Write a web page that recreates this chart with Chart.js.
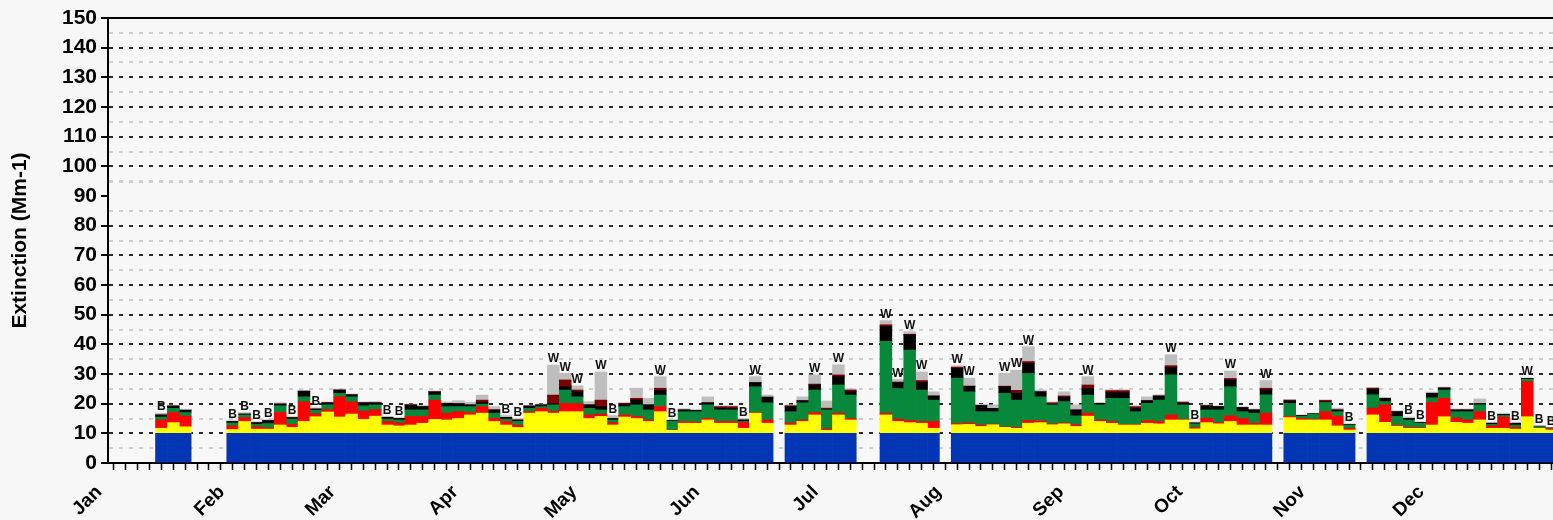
<!DOCTYPE html>
<html>
<head>
<meta charset="utf-8">
<title>Daily light extinction</title>
<script src="https://cdn.jsdelivr.net/npm/chart.js@4.4.1/dist/chart.umd.min.js"></script>
<style>
    html, body { margin: 0; padding: 0; background: #f7f7f7; }
    canvas { display: block; }
</style>
</head>
<body>
<canvas id="extinctionChart" width="1553" height="520"></canvas>
<script>
// sample start day (day of year, 0 = Jan 1), one sample every 3 days
var sampleDay = [
    12, 15, 18,
    30, 33, 36, 39, 42, 45, 48, 51, 54, 57, 60, 63, 66, 69, 72, 75, 78, 81, 84, 87, 90, 93,
    96, 99, 102, 105, 108, 111, 114, 117, 120, 123, 126, 129, 132, 135, 138, 141, 144, 147,
    150, 153, 156, 159, 162, 165,
    171, 174, 177, 180, 183, 186,
    195, 198, 201, 204, 207,
    213, 216, 219, 222, 225, 228, 231, 234, 237, 240, 243, 246, 249, 252, 255, 258, 261, 264,
    267, 270, 273, 276, 279, 282, 285, 288, 291,
    297, 300, 303, 306, 309, 312,
    318, 321, 324, 327, 330, 333, 336, 339, 342, 345, 348, 351, 354, 357, 360, 363
];

// Rayleigh (clear air) extinction, Mm-1
var rayleigh = 10;

var sulfate = [
    1.7, 3.6, 2.2,
    1.3, 4.0, 1.4, 1.4, 2.8, 2.0, 4.0, 5.6, 7.2, 5.5,
    6.5, 4.7, 5.8, 2.8, 2.5, 2.8, 3.4, 4.7, 4.5, 5.0,
    6.2, 6.8, 4.0, 2.8, 2.0, 6.8, 7.3, 6.8, 7.3, 7.3,
    5.0, 5.7, 2.8, 5.5, 5.0, 4.0, 7.3, 1.0, 3.4, 3.4,
    4.5, 3.4, 3.4, 1.7, 6.8, 3.4,
    2.8, 4.0, 6.2, 1.0, 6.2, 4.5,
    6.2, 4.0, 3.6, 3.4, 1.7,
    2.9, 3.0, 2.3, 2.9, 2.0, 1.7, 3.4, 3.6, 2.9,
    3.2, 2.3, 5.8, 4.0, 3.4, 2.8, 2.8, 3.4, 3.2, 4.5,
    4.5, 1.5, 3.6, 3.2, 4.0, 2.8, 2.8, 2.8,
    5.3, 4.5, 4.5, 4.5, 2.5, 1.1,
    6.2, 3.7, 2.4, 1.7,
    1.7, 2.8, 5.6, 3.7, 3.4, 4.5, 1.7, 1.7, 1.4, 5.6, 1.7, 1.1
];

var nitrate = [
    2.8, 3.4, 3.6,
    1.2, 1.3, 0.8, 0.4, 4.2, 1.0, 6.6, 1.0, 0.8, 6.8,
    4.1, 2.8, 2.2, 1.2, 1.0, 2.9, 2.3, 6.5, 2.3, 2.3,
    0.8, 2.2, 1.0, 1.2, 0.8, 0.5, 1.1, 0.7, 2.8, 2.7,
    1.2, 0.8, 0.8, 0.7, 0.7, 0.5, 1.7, 0.1, 0.6, 0.4,
    0.5, 0.6, 0.6, 1.9, 0.2, 1.1,
    0.7, 0.5, 0.8, 0.5, 0.6, 0.5,
    0.6, 0.8, 0.7, 0.6, 2.3,
    0.4, 0.5, 0.5, 0.2, 0.2, 0.3, 0.9, 0.6, 0.3,
    0.3, 0.6, 1.0, 0.5, 0.6, 0.2, 0.2, 0.9, 0.8, 1.7,
    0.2, 0.5, 1.5, 0.4, 1.9, 2.2, 0.6, 4.0,
    0.4, 0.5, 0.2, 2.8, 3.3, 0.6,
    2.3, 5.9, 0.3, 0.3,
    0.2, 7.6, 6.2, 1.5, 1.1, 2.8, 0.8, 3.8, 0.6, 11.8, 0.1, 0.4
];

var organic = [
    1.0, 1.4, 1.2,
    1.0, 0.9, 0.8, 1.5, 2.3, 1.8, 1.7, 1.2, 1.6, 1.2,
    1.7, 1.8, 1.6, 0.8, 1.0, 2.2, 2.2, 1.7, 2.2, 1.7,
    2.0, 0.8, 1.8, 0.8, 1.2, 1.1, 0.6, 2.1, 4.5, 2.3,
    2.2, 1.4, 0.9, 2.8, 3.9, 3.4, 3.9, 3.0, 3.3, 3.5,
    4.6, 3.9, 3.9, 0.4, 8.7, 5.8,
    3.8, 5.8, 7.6, 6.4, 9.5, 7.9,
    24.2, 10.3, 23.8, 10.6, 7.2,
    15.3, 10.5, 4.5, 4.2, 11.3, 9.2, 15.9, 8.1, 6.4,
    7.2, 3.0, 6.1, 5.1, 7.8, 8.8, 4.3, 5.8, 7.2, 13.5,
    4.9, 1.2, 2.8, 4.3, 9.8, 2.3, 3.4, 6.2,
    4.4, 0.7, 1.8, 3.1, 1.5, 1.1,
    4.5, 1.1, 3.0, 2.5,
    1.5, 1.6, 2.8, 2.1, 2.8, 2.3, 0.5, 0.5, 0.8, 0.8, 0.5, 0.2
];

var elemental = [
    0.7, 0.8, 0.8,
    0.5, 0.3, 0.6, 1.0, 0.6, 0.5, 1.9, 0.4, 0.7, 1.1,
    0.7, 1.0, 0.7, 0.6, 0.5, 1.7, 1.1, 1.1, 1.1, 1.0,
    0.6, 0.7, 1.1, 0.6, 0.5, 0.8, 0.6, 0.3, 1.1, 1.7,
    1.2, 1.1, 0.5, 0.8, 1.6, 1.7, 1.6, 0.2, 0.6, 0.4,
    0.7, 0.6, 0.4, 0.5, 1.4, 1.9,
    1.7, 0.7, 1.7, 0.2, 2.8, 1.1,
    5.0, 2.0, 5.1, 2.5, 1.4,
    3.3, 1.9, 2.1, 1.1, 2.2, 2.3, 3.4, 1.7, 0.2,
    1.5, 2.0, 2.3, 0.5, 1.9, 1.9, 1.1, 0.9, 1.4, 2.5,
    0.5, 0.3, 1.4, 1.1, 2.3, 1.4, 1.1, 1.6,
    0.8, 0.3, 0.1, 0.2, 0.6, 0.2,
    1.9, 1.1, 1.6, 0.5,
    0.3, 1.5, 0.7, 0.6, 0.6, 0.4, 0.4, 0.4, 0.6, 0.3, 0.1, 0.1
];

var soil = [
    0, 0, 0,
    0, 0, 0, 0, 0, 0, 0, 0, 0, 0,
    0, 0, 0, 0, 0, 0, 0, 0, 0, 0,
    0, 0.7, 0, 0, 0, 0, 0, 3.0, 2.3, 0.6,
    0, 2.2, 0, 0.3, 0.6, 0, 0.7, 0, 0, 0,
    0, 0.5, 0.7, 0, 0, 0,
    0.3, 0, 0.3, 0.4, 0.6, 0.6,
    0.6, 0.2, 0.2, 0.7, 0,
    0.4, 0, 0, 0, 0.2, 1.0, 0.6, 0, 0.5,
    0.4, 0, 1.1, 0, 0.7, 0.7, 0.6, 0, 0, 0.6,
    0.4, 0, 0, 0, 0.5, 0, 0, 0.6,
    0.3, 0, 0, 0.5, 0, 0,
    0.3, 0, 0, 0,
    0, 0, 0, 0, 0, 0, 0, 0, 0, 0, 0, 0
];

var coarse = [
    0.6, 0.3, 0.3,
    0.3, 0.5, 0.3, 0.3, 0.4, 0.3, 0.3, 0.4, 0.3, 0.3,
    0.3, 0.3, 0.4, 0.3, 0.3, 0.3, 0.4, 0.3, 0.5, 1.0,
    0.9, 1.7, 1.1, 0.6, 0.5, 0.3, 0.3, 10.1, 2.2, 1.4,
    1.1, 9.5, 1.0, 0.3, 3.4, 2.2, 3.9, 0.3, 0.4, 0.3,
    2.0, 0.3, 0.3, 0.5, 2.0, 0.7,
    0.3, 1.3, 3.1, 2.4, 3.4, 0.4,
    1.4, 0.9, 0.9, 2.9, 1.4,
    0.5, 2.7, 0.4, 1.2, 4.3, 6.8, 5.0, 0.6, 0.3,
    1.4, 1.7, 2.8, 0.3, 0.3, 0.3, 0.3, 1.3, 0.4, 3.7,
    0.3, 0.3, 0.3, 0.3, 2.5, 0.3, 0.3, 2.6,
    0.2, 0.2, 0.2, 0.2, 0.6, 0.2,
    0.3, 0.3, 0.3, 0.5,
    0.2, 0.4, 0.3, 0.3, 0.3, 1.6, 0.3, 0.3, 0.2, 0.2, 0.1, 0.1
];

// W = worst 20% days, B = best 20% days
var dayFlag = [
    'B', '', '',
    'B', 'B', 'B', 'B', '', 'B', '', 'B', '', '',
    '', '', '', 'B', 'B', '', '', '', '', '',
    '', '', '', 'B', 'B', '', '', 'W', 'W', 'W',
    '', 'W', 'B', '', '', '', 'W', 'B', '', '',
    '', '', '', 'B', 'W', '',
    '', '', 'W', '', 'W', '',
    'W', 'W', 'W', 'W', '',
    'W', 'W', '', '', 'W', 'W', 'W', '', '',
    '', '', 'W', '', '', '', '', '', '', 'W',
    '', 'B', '', '', 'W', '', '', 'W',
    '', '', '', '', '', 'B',
    '', '', '', 'B',
    'B', '', '', '', '', '', 'B', '', 'B', 'W', 'B', 'B'
];

var monthStart = [0, 31, 59, 90, 120, 151, 181, 212, 243, 273, 304, 334];
var monthName = ['Jan', 'Feb', 'Mar', 'Apr', 'May', 'Jun', 'Jul', 'Aug', 'Sep', 'Oct', 'Nov', 'Dec'];

var FONT = 'Liberation Sans, Arial, Helvetica, sans-serif';

// build one stacked bar dataset; each bar covers the 3 day sample period
function layer(label, values, colour) {
    return {
        label: label,
        data: sampleDay.map(function (d, i) {
            return { x: d + 1.5, y: typeof values === 'number' ? values : values[i] };
        }),
        backgroundColor: colour,
        borderWidth: 0,
        barPercentage: 1,
        categoryPercentage: 1
    };
}

// tick marks every 3 days
var sampleTicks = [];
for (var d = 0; d <= 363; d += 3) sampleTicks.push(d);

var topFrame = {
    id: 'topFrame',
    beforeDatasetsDraw: function (chart) {
        var ctx = chart.ctx, area = chart.chartArea;
        var y = chart.scales.y.getPixelForValue(150);
        ctx.save();
        ctx.strokeStyle = '#000';
        ctx.lineWidth = 2;
        ctx.beginPath();
        ctx.moveTo(area.left, y);
        ctx.lineTo(area.right, y);
        ctx.stroke();
        ctx.restore();
    }
};

var flagLabels = {
    id: 'flagLabels',
    afterDatasetsDraw: function (chart) {
        var ctx = chart.ctx;
        var top = chart.getDatasetMeta(chart.data.datasets.length - 1);
        ctx.save();
        ctx.font = 'bold 12px ' + FONT;
        ctx.fillStyle = '#111';
        ctx.textAlign = 'center';
        ctx.textBaseline = 'bottom';
        dayFlag.forEach(function (f, i) {
            if (!f) return;
            var bar = top.data[i];
            ctx.fillText(f, bar.x, bar.y);
        });
        ctx.restore();
    }
};

new Chart(document.getElementById('extinctionChart'), {
    type: 'bar',
    data: {
        datasets: [
            layer('Rayleigh', rayleigh, '#0336b4'),
            layer('Sulfate', sulfate, '#ffff00'),
            layer('Nitrate', nitrate, '#ff0000'),
            layer('Organic', organic, '#08883a'),
            layer('Elemental Carbon', elemental, '#000000'),
            layer('Soil', soil, '#7a0000'),
            layer('Coarse Mass', coarse, '#bebebe')
        ]
    },
    options: {
        responsive: false,
        animation: false,
        devicePixelRatio: 1,
        layout: { padding: { top: 18, right: 0, left: 0, bottom: 0 } },
        plugins: {
            legend: { display: false },
            tooltip: { enabled: false }
        },
        scales: {
            x: {
                type: 'linear',
                stacked: true,
                weight: 0,
                min: 0,
                max: 365,
                offset: false,
                afterBuildTicks: function (scale) {
                    scale.ticks = sampleTicks.map(function (v) { return { value: v }; });
                },
                afterFit: function (scale) { scale.height = 9; },
                ticks: {
                    autoSkip: false,
                    maxRotation: 0,
                    padding: 0,
                    callback: function () { return ''; }
                },
                grid: {
                    drawOnChartArea: false,
                    tickLength: 7,
                    tickWidth: 1.5,
                    tickColor: '#000'
                },
                border: { display: true, color: '#000', width: 2 }
            },
            month: {
                type: 'linear',
                position: 'bottom',
                weight: 1,
                min: 0,
                max: 365,
                offset: false,
                afterBuildTicks: function (scale) {
                    scale.ticks = monthStart.map(function (v) { return { value: v }; });
                },
                afterFit: function (scale) { scale.height = 48; },
                ticks: {
                    autoSkip: false,
                    minRotation: 45,
                    maxRotation: 45,
                    padding: 9,
                    labelOffset: -9,
                    color: '#000',
                    font: { family: FONT, size: 19, weight: 'bold' },
                    callback: function (value) {
                        return monthName[monthStart.indexOf(value)];
                    }
                },
                grid: { display: false, drawTicks: false },
                border: { display: false }
            },
            y: {
                stacked: true,
                min: 0,
                max: 150,
                afterFit: function (scale) { scale.width = 108; },
                ticks: {
                    stepSize: 5,
                    autoSkip: false,
                    padding: 4,
                    color: '#000',
                    font: { family: FONT, size: 21, weight: 'bold' },
                    callback: function (value) { return value % 10 === 0 ? value : ''; }
                },
                grid: {
                    lineWidth: function (c) {
                        return c.tick && c.tick.value === 95 ? 3 : 2;
                    },
                    color: function (c) {
                        var v = c.tick ? c.tick.value : 0;
                        if (v === 0 || v === 150 || v === 90) return 'rgba(0,0,0,0)';
                        return v % 10 === 0 ? '#2a2a2a' : '#cfcfcf';
                    },
                    tickLength: 7,
                    tickWidth: 2,
                    tickColor: function (c) {
                        return c.tick && c.tick.value % 10 === 0 ? '#000' : 'rgba(0,0,0,0)';
                    }
                },
                border: { display: true, color: '#000', width: 2, dash: [4, 6] },
                title: {
                    display: true,
                    text: 'Extinction (Mm-1)',
                    color: '#000',
                    padding: { top: 8, bottom: 0 },
                    font: { family: FONT, size: 21, weight: 'bold' }
                }
            }
        }
    },
    plugins: [topFrame, flagLabels]
});
</script>
</body>
</html>
